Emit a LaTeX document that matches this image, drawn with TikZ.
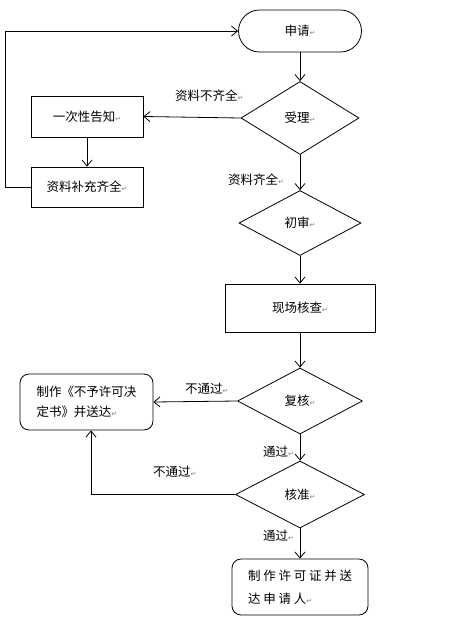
\documentclass[tikz,border=0pt]{standalone}
\usepackage{fontspec}
\setmainfont{Noto Sans CJK SC}
\newfontfamily\dejavu{DejaVu Sans}
\newfontfamily\cjkwide[LetterSpace=22]{Noto Sans CJK SC}
\usetikzlibrary{shapes.geometric,arrows.meta}
\newcommand{\pmark}{{\dejavu\fontsize{7}{7}\selectfont\color{gray}↵}}
\tikzset{
  base/.style={draw=black, line width=0.8pt, font=\fontsize{12.5}{14}\selectfont, inner sep=0pt},
  term/.style={base, rounded corners=21pt, minimum width=123pt, minimum height=42pt},
  dia/.style={base, diamond},
  box/.style={base, rectangle},
  rbox/.style={base, rectangle, rounded corners=9pt},
  arr/.style={line width=0.8pt, -{Straight Barb[length=6pt,width=10pt]}},
  lbl/.style={anchor=west, inner sep=0pt, font=\fontsize{12.5}{14}\selectfont}
}
\begin{document}
\begin{tikzpicture}[x=1pt,y=-1pt]
\useasboundingbox (0,0) rectangle (455,630);
\fill[white] (0,0) rectangle (455,630);
\node[term] (apply) at (300,31) {申请\pmark};
\node[dia, minimum width=118pt, minimum height=73pt] (accept) at (300,118) {受理\pmark};
\node[box, minimum width=112pt, minimum height=41pt] (notify) at (87,116.5) {一次性告知\pmark};
\node[box, minimum width=112pt, minimum height=40pt] (supp) at (87,187) {资料补充齐全\pmark};
\node[dia, minimum width=122pt, minimum height=65pt] (first) at (300,223) {初审\pmark};
\node[box, minimum width=150pt, minimum height=48pt] (site) at (300,308) {现场核查\pmark};
\node[dia, minimum width=125pt, minimum height=66pt] (review) at (300,401) {复核\pmark};
\node[rbox, minimum width=133pt, minimum height=56pt, align=left,
      font=\fontsize{12.5}{20}\selectfont] (deny) at (86.5,402)
      {制作《不予许可决\\定书》并送达\pmark};
\node[dia, minimum width=129pt, minimum height=67pt] (approve) at (300,494.5) {核准\pmark};
\node[rbox, minimum width=136pt, minimum height=56pt, align=left,
      font=\fontsize{12.5}{23}\cjkwide] (grant) at (300,587)
      {制作许可证并送\\达申请人\pmark};

\node[lbl] (l1) at (175,96) {资料不齐全\pmark};
\node[lbl] (l2) at (228,180) {资料齐全\pmark};
\node[lbl] (l3) at (185,389) {不通过\pmark};
\node[lbl] (l4) at (263,452) {通过\pmark};
\node[lbl] (l5) at (153,472) {不通过\pmark};
\node[lbl] (l6) at (263,536) {通过\pmark};

\draw[arr] (apply) -- (accept);
\draw[arr] (accept.west) -- (notify.east);
\draw[arr] (notify) -- (supp);
\draw[arr] (supp.west) -- ++(-25,0) |- (apply.west);
\draw[arr] (accept) -- (first);
\draw[arr] (first) -- (site);
\draw[arr] (site) -- (review);
\draw[arr] (review.west) -- (deny.east);
\draw[arr] (review) -- (approve);
\draw[arr] (approve.west) -| ([xshift=4.5pt]deny.south);
\draw[arr] (approve) -- (grant);
\end{tikzpicture}
\end{document}
